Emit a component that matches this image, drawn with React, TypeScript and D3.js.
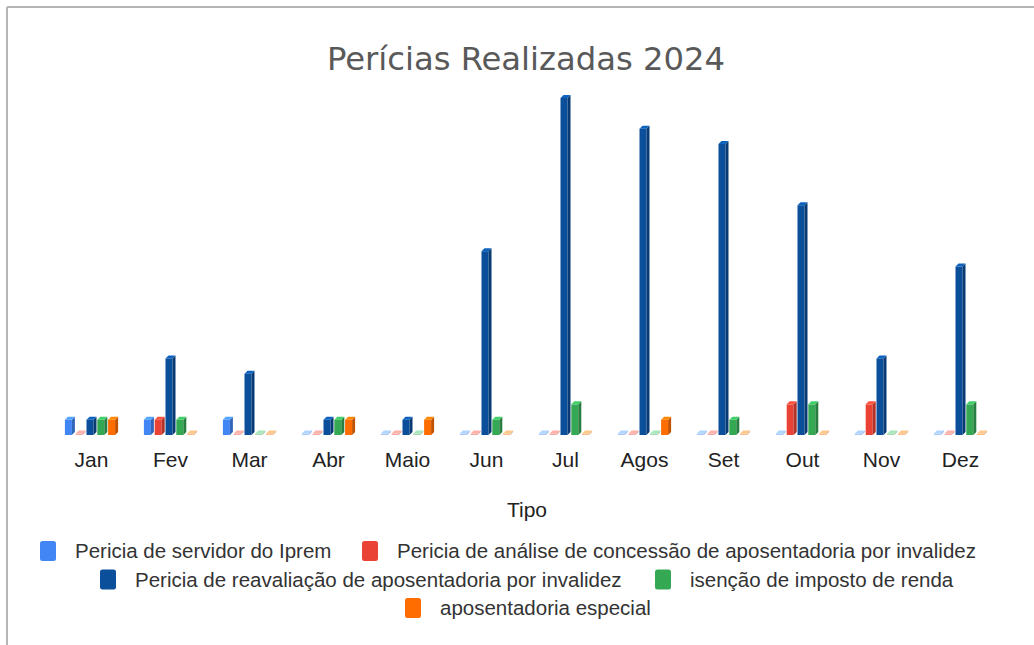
import React from 'react';
import * as d3 from 'd3';

const months = ['Jan', 'Fev', 'Mar', 'Abr', 'Maio', 'Jun', 'Jul', 'Agos', 'Set', 'Out', 'Nov', 'Dez'];

const seriesNames = [
  'Pericia de servidor do Iprem',
  'Pericia de análise de concessão de aposentadoria por invalidez',
  'Pericia de reavaliação de aposentadoria por invalidez',
  'isenção de imposto de renda',
  'aposentadoria especial',
];

const seriesColors = ['#4285F4', '#EA4335', '#0B4F9A', '#34A853', '#FF6D01'];

const servidor = [1, 1, 1, 0, 0, 0, 0, 0, 0, 0, 0, 0];
const analise = [0, 1, 0, 0, 0, 0, 0, 0, 0, 2, 2, 0];
const reavaliacao = [1, 5, 4, 1, 1, 12, 22, 20, 19, 15, 5, 11];
const isencao = [1, 1, 0, 1, 0, 1, 2, 0, 1, 2, 0, 2];
const especial = [1, 0, 0, 1, 1, 0, 0, 1, 0, 0, 0, 0];

const seriesValues = [servidor, analise, reavaliacao, isencao, especial];

// legend rows: series index per item
const legendRows = [[0, 1], [2, 3], [4]];
const legendStarts = [[40, 362], [100, 655], [405]];

const W = 1034;
const H = 645;

const App: React.FC = () => {
  const x = d3.scaleBand<string>().domain(months).range([52, 1000]).padding(0);
  const inner = d3.scaleBand<number>().domain(d3.range(seriesNames.length)).range([-27, 27]).padding(0);
  const y = d3.scaleLinear().domain([0, 22]).range([435, 98]);

  const bw = 7;
  const dx = 3;
  const dy = 3;

  const bars: JSX.Element[] = [];
  months.forEach((m, mi) => {
    seriesValues.forEach((vals, si) => {
      const v = vals[mi];
      const cx = (x(m) as number) + x.bandwidth() / 2 + (inner(si) as number) + inner.bandwidth() / 2;
      const x0 = cx - (bw + dx) / 2;
      const base = y(0);
      const top = v > 0 ? y(v) : base - 1.5;
      const c = d3.color(seriesColors[si])!;
      const front = c.formatHex();
      const side = c.darker(0.8).formatHex();
      const cap = c.brighter(0.6).formatHex();
      const op = v > 0 ? 1 : 0.45;
      bars.push(
        <g key={`${mi}-${si}`} opacity={op}>
          <rect x={x0} y={top} width={bw} height={base - top} fill={front} />
          <polygon
            points={`${x0 + bw},${top} ${x0 + bw + dx},${top - dy} ${x0 + bw + dx},${base - dy} ${x0 + bw},${base}`}
            fill={side}
          />
          <polygon
            points={`${x0},${top} ${x0 + dx},${top - dy} ${x0 + bw + dx},${top - dy} ${x0 + bw},${top}`}
            fill={cap}
          />
        </g>
      );
    });
  });

  const font = "'Liberation Sans', Arial, sans-serif";

  return (
    <div style={{ position: 'absolute', left: 0, top: 0 }}>
      <svg width={W} height={H} style={{ display: 'block', background: '#fff' }}>
        <rect x={0} y={0} width={W} height={H} fill="#fff" />
        <line x1={7} x2={W} y1={7} y2={7} stroke="#b5b5b5" strokeWidth={2} />
        <line x1={7} x2={7} y1={7} y2={H} stroke="#b5b5b5" strokeWidth={2} />

        <text
          x={526}
          y={70}
          textAnchor="middle"
          fill="#595959"
          fontFamily="'DejaVu Sans Condensed', 'DejaVu Sans', sans-serif"
          fontSize={32}
          textLength={398}
          lengthAdjust="spacingAndGlyphs"
        >
          Perícias Realizadas 2024
        </text>

        {bars}

        {months.map((m) => (
          <text
            key={m}
            x={(x(m) as number) + x.bandwidth() / 2}
            y={467}
            textAnchor="middle"
            fill="#222"
            fontFamily={font}
            fontSize={21}
          >
            {m}
          </text>
        ))}

        <text x={527} y={517} textAnchor="middle" fill="#222" fontFamily={font} fontSize={21}>
          Tipo
        </text>

        {legendRows.map((row, ri) =>
          row.map((si, k) => {
            const sx = legendStarts[ri][k];
            const cy = 551 + ri * 28.5;
            return (
              <g key={si}>
                <rect x={sx} y={cy - 10} width={16} height={20} rx={2.5} fill={seriesColors[si]} />
                <text x={sx + 35} y={cy + 7} fill="#333" fontFamily={font} fontSize={20.5}>
                  {seriesNames[si]}
                </text>
              </g>
            );
          })
        )}
      </svg>
    </div>
  );
};

export default App;
